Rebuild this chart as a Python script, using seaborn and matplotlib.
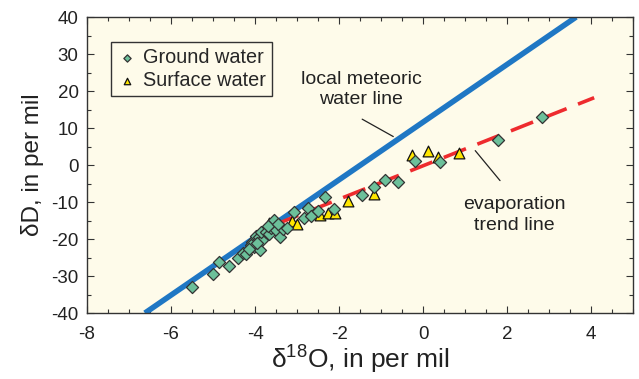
import matplotlib
matplotlib.use("Agg")
import matplotlib.pyplot as plt
import seaborn as sns
import pandas as pd
from matplotlib.ticker import MultipleLocator

# ---- data ----
ground_x = [-5.51, -5.00, -4.86, -4.62, -4.40, -4.29, -4.21, -4.08, -4.02, -3.88,
            -3.98, -3.90, -3.83, -3.86, -3.75, -3.67, -3.63, -3.55, -3.51, -3.41,
            -3.33, -3.23, -3.07, -2.84, -2.75, -2.67, -2.50, -2.33, -2.12, -1.46,
            -1.18, -0.90, -0.60, -0.19, 0.40, 1.77, 2.84,
            -4.10, -3.95, -3.70, -3.45, -4.15]
ground_y = [-33.0, -29.5, -26.1, -27.3, -25.0, -23.9, -24.1, -20.7, -22.1, -23.0,
            -19.2, -19.5, -20.2, -18.0, -18.0, -18.6, -17.1, -14.8, -17.5, -19.5,
            -17.3, -16.9, -12.8, -14.2, -11.5, -13.9, -12.3, -8.5, -11.8, -8.2,
            -5.9, -4.0, -4.7, 1.0, 0.7, 6.9, 13.1,
            -21.5, -21.0, -16.5, -16.0, -22.8]
surface_x = [-3.67, -3.11, -3.01, -2.45, -2.26, -2.10, -1.79, -1.18, -0.26, 0.12, 0.36, 0.86]
surface_y = [-15.6, -15.0, -15.9, -13.6, -13.0, -13.0, -9.7, -7.9, 2.6, 3.9, 2.3, 3.2]

mwl_x = [-6.62, 3.64]
mwl_y = [-40.0, 40.0]
evap_x = [-3.50, 4.07]
evap_y = [-16.0, 18.2]

x_ticks = [-8, -6, -4, -2, 0, 2, 4]
y_ticks = [-40, -30, -20, -10, 0, 10, 20, 30, 40]

sns.set_style("ticks")
plt.rcParams['font.family'] = ['Liberation Sans', 'DejaVu Sans']
plt.rcParams['axes.unicode_minus'] = False
plt.rcParams['mathtext.fontset'] = 'custom'
plt.rcParams['mathtext.rm'] = 'Liberation Sans'
plt.rcParams['mathtext.it'] = 'Liberation Sans'
plt.rcParams['mathtext.default'] = 'regular'

bg = "#FEFBEA"
fig = plt.figure(figsize=(6.39, 3.79), dpi=100)
ax = fig.add_axes([0.136, 0.174, 0.855, 0.781])
ax.set_facecolor(bg)

mwl = pd.DataFrame({"x": mwl_x, "y": mwl_y})
evap = pd.DataFrame({"x": evap_x, "y": evap_y})
sns.lineplot(data=mwl, x="x", y="y", ax=ax, color="#1F77C4", lw=4.0,
             solid_capstyle="butt", zorder=2, legend=False)
sns.lineplot(data=evap, x="x", y="y", ax=ax, color="#EE2B2E", lw=2.6,
             zorder=2, legend=False)
ax.lines[-1].set_dashes((6.6, 3.4))

gdf = pd.DataFrame({"x": ground_x, "y": ground_y})
sdf = pd.DataFrame({"x": surface_x, "y": surface_y})
sns.scatterplot(data=gdf, x="x", y="y", ax=ax, marker="D", s=38,
                color="#6CC09A", edgecolor="#333333", linewidth=0.9,
                zorder=4, label="Ground water")
sns.scatterplot(data=sdf, x="x", y="y", ax=ax, marker="^", s=60,
                color="#FFE600", edgecolor="#111111", linewidth=0.9,
                zorder=3, label="Surface water")

ax.set_xlim(-8, 5)
ax.set_ylim(-40, 40)
ax.set_xticks(x_ticks)
ax.set_yticks(y_ticks)
ax.xaxis.set_minor_locator(MultipleLocator(0.5))
ax.yaxis.set_minor_locator(MultipleLocator(5))
ax.tick_params(which="both", direction="in", top=True, right=True,
               color="#333333", width=0.8)
ax.tick_params(which="major", length=5, labelsize=13.5, colors="#333333",
               labelcolor="#222222", pad=6)
ax.tick_params(axis="x", which="major", pad=9)
ax.tick_params(which="minor", length=3)
for s in ax.spines.values():
    s.set_color("#333333")
    s.set_linewidth(1.0)

ax.set_xlabel("δ$^{18}$O, in per mil", fontsize=19, color="#222222", labelpad=1)
ax.set_ylabel("δD, in per mil", fontsize=17.5, color="#222222", labelpad=5)

leg = ax.legend(loc="upper left", bbox_to_anchor=(0.045, 0.915), fontsize=14.3,
                frameon=True, fancybox=False, markerscale=0.6,
                handletextpad=0.3, borderpad=0.3, labelspacing=0.2,
                handlelength=1.0, borderaxespad=0)
leg.get_frame().set_edgecolor("#333333")
leg.get_frame().set_facecolor(bg)
leg.get_frame().set_linewidth(1.0)
leg.get_frame().set_alpha(1)

ax.text(-1.48, 20.5, "local meteoric\nwater line", ha="center", va="center",
        fontsize=14, color="#222222", linespacing=1.25)
ax.plot([-1.45, -0.71], [12.4, 7.7], color="#222222", lw=0.9)
ax.text(2.17, -13.5, "evaporation\ntrend line", ha="center", va="center",
        fontsize=14, color="#222222", linespacing=1.25)
ax.plot([1.24, 1.83], [3.9, -4.2], color="#222222", lw=0.9)

fig.savefig("out.png", dpi=100, facecolor="white")
